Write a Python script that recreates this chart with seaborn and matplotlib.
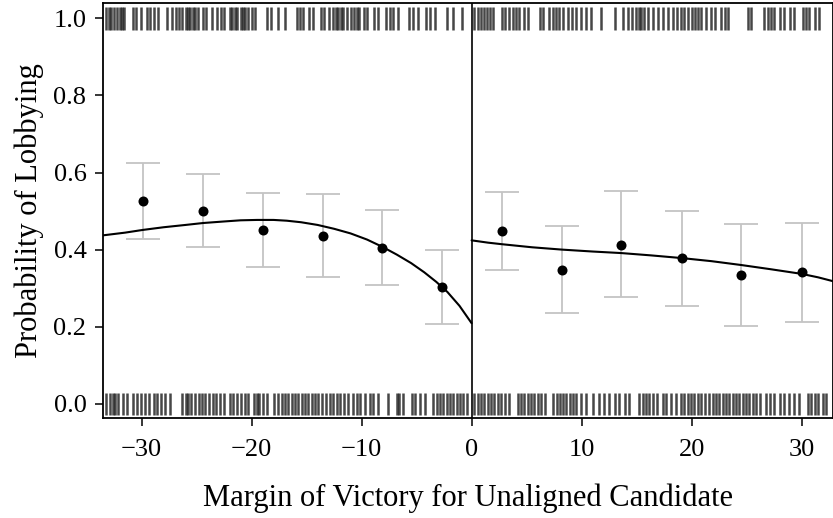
import numpy as np
import pandas as pd
import matplotlib
matplotlib.use("Agg")
import matplotlib.pyplot as plt
import seaborn as sns

# Binned means with 95% intervals, left of the threshold
left_x = [-29.9, -24.45, -19.0, -13.55, -8.1, -2.7]
left_mean = [0.525, 0.501, 0.451, 0.436, 0.405, 0.303]
left_lo = [0.427, 0.406, 0.356, 0.329, 0.307, 0.208]
left_hi = [0.624, 0.596, 0.546, 0.544, 0.503, 0.398]

# Binned means with 95% intervals, right of the threshold
right_x = [2.75, 8.2, 13.6, 19.1, 24.5, 30.0]
right_mean = [0.447, 0.348, 0.413, 0.378, 0.334, 0.341]
right_lo = [0.347, 0.236, 0.276, 0.254, 0.203, 0.211]
right_hi = [0.550, 0.460, 0.551, 0.501, 0.467, 0.470]

# Fitted probability curves on each side
curve_left_x = [-33.5, -31.5, -29.9, -28.0, -26.0, -24.4, -22.5, -21.0, -19.5, -18.0,
                -16.8, -15.5, -14.0, -12.5, -11.0, -9.5, -8.1, -6.8, -5.5, -4.3,
                -3.2, -2.2, -1.1, 0.0]
curve_left_y = [0.437, 0.444, 0.451, 0.458, 0.464, 0.469, 0.473, 0.476, 0.477, 0.477,
                0.475, 0.471, 0.464, 0.454, 0.442, 0.426, 0.407, 0.387, 0.365, 0.341,
                0.316, 0.290, 0.254, 0.209]
curve_right_x = [0.0, 1.5, 2.75, 5.5, 8.2, 11.0, 13.6, 16.3, 19.1, 21.8, 24.5, 27.2,
                 30.0, 31.5, 32.85]
curve_right_y = [0.424, 0.418, 0.414, 0.406, 0.400, 0.395, 0.391, 0.385, 0.378, 0.370,
                 0.360, 0.349, 0.337, 0.328, 0.318]

# Observed margins for districts with lobbying (1) and without (0)
rug_one_x = [
    -33.2, -33.0, -32.8, -32.5, -32.25, -32.0, -31.8, -31.6, -30.8, -30.5, -30.07,
    -29.5, -29.2, -28.9, -28.5, -27.7, -27.2, -26.9, -26.6, -26.35, -26.0, -25.8,
    -25.6, -25.35, -25.1, -24.9, -24.4, -24.1, -23.6, -23.1, -22.8, -22.5, -22.0,
    -21.8, -21.5, -21.3, -21.0, -20.8, -20.6, -20.3, -20.0, -19.7, -18.6, -18.2,
    -17.6, -16.95, -15.9, -15.6, -15.3, -14.8, -14.4, -13.7, -13.4, -13.0, -12.56,
    -12.3, -12.1, -11.9, -11.65, -11.35, -11.0, -10.7, -10.4, -10.2, -9.8, -9.5,
    -8.9, -8.5, -7.8, -7.4, -7.1, -6.65, -5.65, -5.3, -4.9, -4.1, -3.8, -3.3,
    -2.25, -1.65, -0.9,
    0.26, 0.56, 0.86, 1.17, 1.38, 1.68, 1.92, 2.77, 3.08, 3.44, 3.74, 4.05, 4.35,
    4.8, 5.1, 6.23, 6.53, 7.08, 7.44, 7.68, 7.99, 8.35, 8.74, 9.14, 9.5, 9.96,
    10.4, 10.86, 11.77, 12.99, 13.74, 14.2, 14.59, 14.96, 15.2, 15.41, 15.71,
    16.0, 16.47, 16.92, 17.38, 17.83, 18.29, 18.65, 19.05, 19.35, 19.65, 20.05,
    20.35, 20.56, 20.86, 21.32, 21.77, 22.08, 22.68, 22.99, 23.29, 25.1, 25.4,
    26.6, 26.9, 27.2, 27.5, 28.0, 28.4, 28.9, 29.35, 30.1, 30.4, 30.7, 31.17, 31.6,
]
rug_zero_x = [
    -33.2, -32.9, -32.6, -32.4, -32.1, -31.7, -31.3, -30.8, -30.4, -30.07, -29.7,
    -29.3, -28.9, -28.6, -28.25, -27.86, -27.4, -26.35, -26.0, -25.8, -25.5, -25.1,
    -24.8, -24.5, -24.2, -23.9, -23.5, -23.2, -22.9, -22.5, -22.0, -21.7, -21.35,
    -21.0, -20.6, -20.3, -19.8, -19.5, -19.3, -19.0, -18.6, -18.0, -17.56, -17.26,
    -16.95, -16.65, -16.35, -16.04, -15.74, -15.44, -15.13, -14.83, -14.53, -14.22,
    -13.92, -13.62, -13.22, -12.86, -12.56, -12.25, -11.95, -11.6, -11.2, -10.74,
    -10.44, -10.13, -9.68, -9.28, -8.92, -8.47, -7.56, -6.8, -6.56, -6.2, -5.44,
    -5.13, -4.68, -4.23, -3.47, -3.16, -2.86, -2.56, -2.25, -1.95, -1.65, -1.35,
    -1.04, -0.74, -0.44,
    0.26, 0.56, 0.86, 1.17, 1.47, 1.77, 2.08, 2.38, 2.68, 3.08, 3.38, 4.2, 4.5,
    4.8, 5.1, 5.4, 5.7, 6.0, 6.3, 6.7, 7.44, 7.74, 8.05, 8.35, 8.6, 8.9, 9.2, 9.5,
    9.96, 10.4, 11.0, 11.6, 12.08, 12.53, 12.99, 13.44, 13.9, 14.35, 15.26, 15.56,
    15.86, 16.17, 16.47, 16.83, 17.38, 17.68, 18.14, 18.6, 19.05, 19.35, 19.65,
    19.96, 20.26, 20.56, 20.86, 21.17, 21.56, 21.92, 22.23, 22.53, 22.83, 23.14,
    23.44, 23.74, 24.05, 24.35, 24.65, 24.96, 25.26, 25.56, 25.86, 26.17, 26.77,
    27.08, 27.53, 27.99, 28.44, 28.89, 29.35, 29.8, 30.56, 30.86, 31.17, 31.47,
    31.92, 32.23,
]

x_ticks = [-30, -20, -10, 0, 10, 20, 30]
y_ticks = [0.0, 0.2, 0.4, 0.6, 0.8, 1.0]

sns.set_theme(style="ticks")
plt.rcParams["font.family"] = ["Liberation Serif", "DejaVu Serif"]
plt.rcParams["axes.unicode_minus"] = True

fig = plt.figure(figsize=(8.33, 5.18), dpi=100)
ax = fig.add_axes([0.1237, 0.1931, 0.8763, 0.8011])

# rug of individual outcomes at y = 1 and y = 0
rug_half = 0.029
ax.vlines(rug_one_x, 1 - rug_half, 1 + rug_half, color="black", alpha=0.72, linewidth=1.8, zorder=2)
ax.vlines(rug_zero_x, -rug_half, rug_half, color="black", alpha=0.72, linewidth=1.8, zorder=2)

# threshold
ax.axvline(0, color="black", linewidth=1.2, zorder=3)

# confidence intervals of the binned means
bins = pd.DataFrame({
    "x": left_x + right_x,
    "mean": left_mean + right_mean,
    "lo": left_lo + right_lo,
    "hi": left_hi + right_hi,
})
ax.errorbar(bins["x"], bins["mean"],
            yerr=[bins["mean"] - bins["lo"], bins["hi"] - bins["mean"]],
            fmt="none", ecolor="#c4c4c4", elinewidth=1.3, capsize=12, capthick=1.3,
            zorder=3)

# fitted curves
fit_left = pd.DataFrame({"x": curve_left_x, "y": curve_left_y})
fit_right = pd.DataFrame({"x": curve_right_x, "y": curve_right_y})
for fit in (fit_left, fit_right):
    sns.lineplot(data=fit, x="x", y="y", color="black", linewidth=1.5, ax=ax, zorder=4,
                 sort=True, estimator=None)
for line in ax.get_lines():
    line.set_solid_joinstyle("round")

# binned means
sns.scatterplot(data=bins, x="x", y="mean", color="black", s=52, edgecolor="black",
                linewidth=0, ax=ax, zorder=5)

ax.set_xlim(-33.5, 32.85)
ax.set_ylim(-0.037, 1.04)
ax.set_xticks(x_ticks)
ax.set_xticklabels([f"{t}".replace("-", "\u2212") for t in x_ticks])
ax.set_yticks(y_ticks)
ax.set_yticklabels([f"{t:.1f}" for t in y_ticks])
ax.tick_params(axis="both", direction="out", length=6, width=1.1, color="black",
               labelsize=19, labelcolor="black", pad=6)
ax.tick_params(axis="x", pad=9)
for side in ["left", "right", "top", "bottom"]:
    ax.spines[side].set_visible(True)
    ax.spines[side].set_color("black")
    ax.spines[side].set_linewidth(1.3)

ax.set_xlabel("Margin of Victory for Unaligned Candidate", fontsize=22, labelpad=16, color="black")
ax.set_ylabel("Probability of Lobbying", fontsize=22, labelpad=7, color="black")
ax.grid(False)
ax.set_facecolor("white")
fig.patch.set_facecolor("white")

fig.savefig("out.png", dpi=100, facecolor="white")
